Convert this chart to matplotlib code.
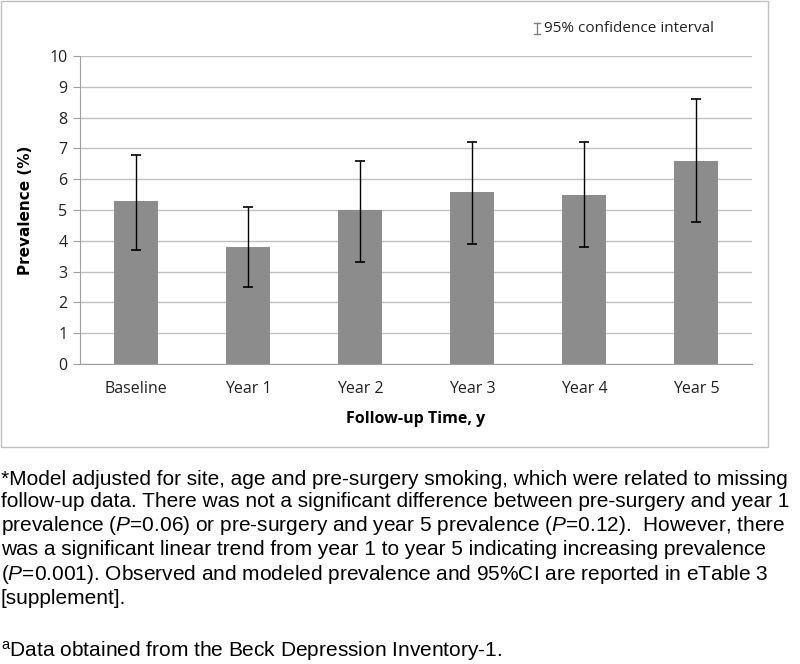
import matplotlib
matplotlib.use("Agg")
import matplotlib.pyplot as plt
from matplotlib.lines import Line2D
from matplotlib.patches import Rectangle
from matplotlib import font_manager as fm

categories = ["Baseline", "Year 1", "Year 2", "Year 3", "Year 4", "Year 5"]
prevalence = [5.3, 3.8, 5.0, 5.6, 5.5, 6.6]
ci_low = [3.7, 2.5, 3.3, 3.9, 3.8, 4.6]
ci_high = [6.8, 5.1, 6.6, 7.2, 7.2, 8.6]
yticks = list(range(0, 11))

names = {f.name for f in fm.fontManager.ttflist}
narrow = "Liberation Sans Narrow" if "Liberation Sans Narrow" in names else "Liberation Sans"
chartfont = "Open Sans"

W, H = 800, 664
fig = plt.figure(figsize=(W / 100, H / 100), dpi=100)

# outer chart border
fig.add_artist(Rectangle((1 / W, 1 - 447 / H), 767 / W, 446 / H, transform=fig.transFigure,
                         fill=False, edgecolor="#bfbfbf", linewidth=1.0))

ax = fig.add_axes([80 / W, 1 - 364 / H, (752 - 80) / W, (364 - 56) / H])
x = list(range(len(categories)))
lower_err = [p - l for p, l in zip(prevalence, ci_low)]
upper_err = [h - p for p, h in zip(prevalence, ci_high)]
ax.bar(x, prevalence, width=0.39, color="#8c8c8c", zorder=2)
ax.errorbar(x, prevalence, yerr=[lower_err, upper_err], fmt="none", ecolor="black",
            elinewidth=1.0, capsize=3.5, capthick=1.2, zorder=3)
ax.set_xlim(-0.5, len(categories) - 0.5)
ax.set_ylim(0, 10)
ax.set_yticks(yticks)
ax.yaxis.grid(True, color="#c0c0c0", linewidth=1.0, zorder=0)
ax.set_axisbelow(True)
for s in ["top", "right"]:
    ax.spines[s].set_visible(False)
ax.spines["left"].set_color("#a0a0a0")
ax.spines["bottom"].set_color("#a0a0a0")
ax.set_xticks(x)
ax.set_xticklabels(categories, fontsize=11.5, family=chartfont, color="#222222")
ax.tick_params(axis="x", length=0, pad=12)
ax.tick_params(axis="y", length=5, color="#a0a0a0", labelsize=11.5, pad=4)
for t in ax.get_yticklabels():
    t.set_family(chartfont)
    t.set_color("#222222")
ax.set_ylabel("Prevalence (%)", fontsize=11, fontweight="bold", family="DejaVu Sans", labelpad=12)
ax.set_xlabel("Follow-up Time, y", fontsize=11.5, fontweight="bold", family=chartfont, labelpad=10)

# legend-like annotation
lx = 537 / W
ly0, ly1 = 1 - 34 / H, 1 - 23 / H
fig.add_artist(Line2D([lx, lx], [ly0, ly1], transform=fig.transFigure, color="#808080", lw=1))
fig.add_artist(Line2D([lx - 3 / W, lx + 3 / W], [ly0, ly0], transform=fig.transFigure, color="#808080", lw=1))
fig.add_artist(Line2D([lx - 3 / W, lx + 3 / W], [ly1, ly1], transform=fig.transFigure, color="#808080", lw=1))
fig.text(544 / W, 1 - 28.5 / H, "95% confidence interval", fontsize=11, family=chartfont,
         va="center", ha="left", color="#222222")

foot = ("*Model adjusted for site, age and pre-surgery smoking, which were related to missing\n"
        "follow-up data. There was not a significant difference between pre-surgery and year 1\n"
        "prevalence ($\\it{P}$=0.06) or pre-surgery and year 5 prevalence ($\\it{P}$=0.12).  However, there\n"
        "was a significant linear trend from year 1 to year 5 indicating increasing prevalence\n"
        "($\\it{P}$=0.001). Observed and modeled prevalence and 95%CI are reported in eTable 3\n"
        "[supplement].")
plt.rcParams["mathtext.fontset"] = "custom"
plt.rcParams["mathtext.it"] = narrow + ":italic"
plt.rcParams["mathtext.rm"] = narrow
fig.text(1 / W, 1 - 470 / H, foot, fontsize=15, family=narrow, va="top", ha="left",
         linespacing=1.2, color="black")
fig.text(1 / W, 1 - 657 / H, "$^{\\mathrm{a}}$Data obtained from the Beck Depression Inventory-1.", fontsize=15,
         family=narrow, va="baseline", ha="left", color="black")

fig.savefig("out.png", dpi=100, facecolor="white")
